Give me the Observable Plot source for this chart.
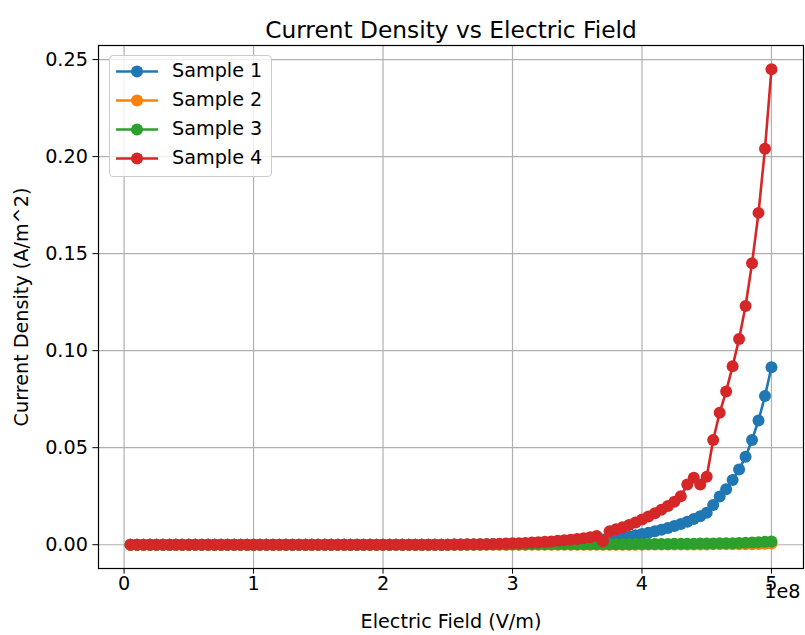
<!DOCTYPE html>
<html>
<head>
<meta charset="utf-8">
<script src="https://cdn.jsdelivr.net/npm/d3@7"></script>
<script src="https://cdn.jsdelivr.net/npm/@observablehq/plot@0.6"></script>
<style>
  body { margin: 0; background: #fff; }
  #wrap { position: relative; width: 805px; height: 635px; font-family: "DejaVu Sans", sans-serif; }
  #legend {
    position: absolute; left: 109px; top: 55px; width: 163px; height: 122px;
    box-sizing: border-box; border: 1px solid #cccccc; border-radius: 4px;
    background: rgba(255,255,255,0.8); padding-top: 1px;
  }
  .row { position: relative; height: 29px; }
  .row svg { position: absolute; left: 6px; top: 8px; }
  .row span { position: absolute; left: 62px; top: 3px; font-size: 19.2px; color: #000; line-height: 22px; }
</style>
</head>
<body>
<div id="wrap">
  <div id="chart"></div>
  <div id="legend"></div>
</div>
<script>
// Electric field samples, in MV/m
const fieldMV = [
  5, 10, 15, 20, 25, 30, 35, 40, 45, 50,
  55, 60, 65, 70, 75, 80, 85, 90, 95, 100,
  105, 110, 115, 120, 125, 130, 135, 140, 145, 150,
  155, 160, 165, 170, 175, 180, 185, 190, 195, 200,
  205, 210, 215, 220, 225, 230, 235, 240, 245, 250,
  255, 260, 265, 270, 275, 280, 285, 290, 295, 300,
  305, 310, 315, 320, 325, 330, 335, 340, 345, 350,
  355, 360, 365, 370, 375, 380, 385, 390, 395, 400,
  405, 410, 415, 420, 425, 430, 435, 440, 445, 450,
  455, 460, 465, 470, 475, 480, 485, 490, 495, 500
];

// Current density (A/m^2) per sample
const sample1 = [
  0, 0, 0, 0, 0, 0, 0, 0, 0, 0,
  0, 0, 0, 0, 0, 0, 0, 0, 0, 0,
  0, 0, 0, 0, 0, 0, 0, 0, 0, 0,
  0, 0, 0, 0, 0, 0, 0, 0, 0, 0,
  0, 0, 0, 0, 0, 0, 0, 0, 0, 0,
  0.0001, 0.0001, 0.0001, 0.0001, 0.0002, 0.0002, 0.0002, 0.0003, 0.0003, 0.0004,
  0.0004, 0.0005, 0.0006, 0.0007, 0.0008, 0.0009, 0.0010, 0.0012, 0.0014, 0.0016,
  0.0018, 0.0021, 0.0024, 0.0027, 0.0030, 0.0034, 0.0038, 0.0043, 0.0049, 0.0055,
  0.0062, 0.0069, 0.0077, 0.0086, 0.0096, 0.0107, 0.0119, 0.0132, 0.0147, 0.0165,
  0.0205, 0.0248, 0.0286, 0.0333, 0.0388, 0.0453, 0.0540, 0.0640, 0.0766, 0.0915
];
const sample2 = [
  0, 0, 0, 0, 0, 0, 0, 0, 0, 0,
  0, 0, 0, 0, 0, 0, 0, 0, 0, 0,
  0, 0, 0, 0, 0, 0, 0, 0, 0, 0,
  0, 0, 0, 0, 0, 0, 0, 0, 0, 0,
  0, 0, 0, 0, 0, 0, 0, 0, 0, 0,
  0, 0, 0, 0, 0, 0, 0, 0, 0, 0,
  0, 0, 0, 0, 0, 0, 0, 0, 0, 0,
  0, 0, 0, 0, 0, 0, 0, 0, 0, 0,
  0.0001, 0.0001, 0.0001, 0.0001, 0.0001, 0.0001, 0.0001, 0.0001, 0.0001, 0.0001,
  0.0002, 0.0002, 0.0002, 0.0002, 0.0002, 0.0003, 0.0003, 0.0004, 0.0005, 0.0006
];
const sample3 = [
  0, 0, 0, 0, 0, 0, 0, 0, 0, 0,
  0, 0, 0, 0, 0, 0, 0, 0, 0, 0,
  0, 0, 0, 0, 0, 0, 0, 0, 0, 0,
  0, 0, 0, 0, 0, 0, 0, 0, 0, 0,
  0, 0, 0, 0, 0, 0, 0, 0, 0, 0,
  0, 0, 0, 0, 0, 0.0001, 0.0001, 0.0001, 0.0001, 0.0001,
  0.0001, 0.0001, 0.0002, 0.0002, 0.0002, 0.0002, 0.0002, 0.0002, 0.0002, 0.0002,
  0.0003, 0.0003, 0.0003, 0.0003, 0.0003, 0.0003, 0.0003, 0.0003, 0.0004, 0.0004,
  0.0004, 0.0004, 0.0004, 0.0004, 0.0005, 0.0005, 0.0005, 0.0005, 0.0006, 0.0006,
  0.0006, 0.0007, 0.0007, 0.0008, 0.0009, 0.0010, 0.0011, 0.0013, 0.0015, 0.0017
];
const sample4 = [
  0, 0, 0, 0, 0, 0, 0, 0, 0, 0,
  0, 0, 0, 0, 0, 0, 0, 0, 0, 0,
  0, 0, 0, 0, 0, 0, 0, 0, 0, 0,
  0, 0, 0, 0, 0, 0, 0, 0, 0, 0,
  0, 0, 0, 0, 0, 0, 0, 0, 0, 0,
  0.0001, 0.0001, 0.0002, 0.0002, 0.0003, 0.0003, 0.0004, 0.0005, 0.0006, 0.0007,
  0.0008, 0.0009, 0.0011, 0.0013, 0.0015, 0.0017, 0.0020, 0.0023, 0.0026, 0.0030,
  0.0034, 0.0039, 0.0045, 0.0018, 0.0070, 0.0080, 0.0090, 0.0102, 0.0115, 0.0130,
  0.0145, 0.0162, 0.0180, 0.0200, 0.0222, 0.0250, 0.0310, 0.0345, 0.0310, 0.0350,
  0.0540, 0.0680, 0.0790, 0.0920, 0.1060, 0.1230, 0.1450, 0.1710, 0.2040, 0.2450
];

const sampleNames = ["Sample 1", "Sample 2", "Sample 3", "Sample 4"];
const sampleColors = ["#1f77b4", "#ff7f0e", "#2ca02c", "#d62728"];
const sampleValues = [sample1, sample2, sample3, sample4];

const xTicks = [0, 1e8, 2e8, 3e8, 4e8, 5e8];
const yTicks = [0, 0.05, 0.10, 0.15, 0.20, 0.25];

const series = sampleNames.map((name, k) => ({
  name,
  color: sampleColors[k],
  rows: sampleValues[k].map((J, i) => ({E: fieldMV[i] * 1e6, J}))
}));

const allE = fieldMV.map(f => f * 1e6);
const allJ = sampleValues.flat();
const pad = (lo, hi) => [lo - 0.05 * (hi - lo), hi + 0.05 * (hi - lo)];
const xDomain = pad(d3.min(allE), d3.max(allE));
const yDomain = pad(d3.min(allJ), d3.max(allJ));

const fs = 19.2;

const chart = Plot.plot({
  width: 805,
  height: 635,
  marginLeft: 98,
  marginRight: 2,
  marginTop: 45,
  marginBottom: 67,
  style: {fontFamily: "DejaVu Sans", fontSize: fs + "px", color: "#000", background: "#fff"},
  x: {domain: xDomain},
  y: {domain: yDomain},
  marks: [
    Plot.gridX(xTicks, {stroke: "#b0b0b0", strokeOpacity: 1, strokeWidth: 1.2}),
    Plot.gridY(yTicks, {stroke: "#b0b0b0", strokeOpacity: 1, strokeWidth: 1.2}),
    ...series.flatMap(s => [
      Plot.line(s.rows, {x: "E", y: "J", stroke: s.color, strokeWidth: 2.6}),
      Plot.dot(s.rows, {x: "E", y: "J", fill: s.color, r: 6, stroke: "none"})
    ]),
    Plot.frame({stroke: "#000", strokeWidth: 1.2}),
    Plot.axisX({
      ticks: xTicks, tickFormat: d => String(d / 1e8), tickSize: 5.6, tickPadding: 2,
      label: "Electric Field (V/m)", labelAnchor: "center", labelArrow: "none", labelOffset: 59,
      fontSize: fs
    }),
    Plot.axisY({
      ticks: yTicks, tickFormat: d3.format(".2f"), tickSize: 5.6, tickPadding: 5,
      label: "Current Density (A/m^2)", labelAnchor: "center", labelArrow: "none", labelOffset: 84,
      fontSize: fs
    }),
    Plot.text(["1e8"], {frameAnchor: "bottom-right", textAnchor: "end", dx: -3, dy: 29, fontSize: fs}),
    Plot.text(["Current Density vs Electric Field"], {frameAnchor: "top", dy: -24, fontSize: 23.3})
  ]
});
document.getElementById("chart").appendChild(chart);

// Legend
const legend = document.getElementById("legend");
for (const s of series) {
  const row = document.createElement("div");
  row.className = "row";
  row.innerHTML =
    `<svg width="42" height="13"><line x1="0" y1="6.5" x2="42" y2="6.5" stroke="${s.color}" stroke-width="2.6"/>` +
    `<circle cx="21" cy="6.5" r="6" fill="${s.color}"/></svg><span>${s.name}</span>`;
  legend.appendChild(row);
}
</script>
</body>
</html>
